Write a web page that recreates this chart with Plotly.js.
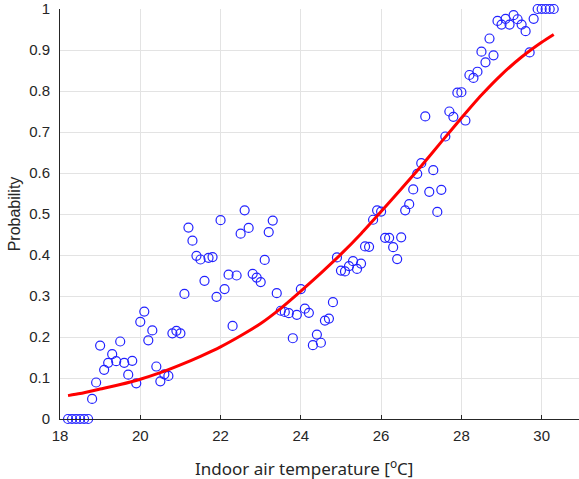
<!DOCTYPE html>
<html>
<head>
<meta charset="utf-8">
<script src="https://cdn.plot.ly/plotly-3.0.1.min.js"></script>
<style>html,body{margin:0;padding:0;background:#fff;}#chart{width:579px;height:479px;}</style>
</head>
<body>
<div id="chart"></div>
<script>
// Observed probabilities (open circles)
var obsTemp = [18.2,18.3,18.4,18.5,18.6,18.7,18.8,18.9,19.0,19.1,19.2,19.3,19.4,19.5,19.6,19.7,19.8,19.9,
  20.0,20.1,20.2,20.3,20.4,20.5,20.6,20.7,20.8,20.9,21.0,21.1,21.2,21.3,21.4,21.5,21.6,21.7,21.8,21.9,
  22.0,22.1,22.2,22.3,22.4,22.5,22.6,22.7,22.8,22.9,23.0,23.1,23.2,23.3,23.4,23.5,23.6,23.7,23.8,23.9,
  24.0,24.1,24.2,24.3,24.4,24.5,24.6,24.7,24.8,24.9,25.0,25.1,25.2,25.3,25.4,25.5,25.6,25.7,25.8,25.9,
  26.0,26.1,26.2,26.3,26.4,26.5,26.6,26.7,26.8,26.9,27.0,27.1,27.2,27.3,27.4,27.5,27.6,27.7,27.8,27.9,
  28.0,28.1,28.2,28.3,28.4,28.5,28.6,28.7,28.8,28.9,29.0,29.1,29.2,29.3,29.4,29.5,29.6,29.7,29.8,29.9,
  30.0,30.1,30.2,30.3];
var obsProb = [0,0,0,0,0,0,0.049,0.089,0.179,0.120,0.137,0.158,0.141,0.189,0.137,0.108,0.142,0.087,
  0.237,0.262,0.192,0.216,0.128,0.092,0.109,0.105,0.209,0.215,0.209,0.305,0.467,0.435,0.398,0.389,0.337,0.393,0.395,0.298,
  0.485,0.317,0.352,0.227,0.350,0.452,0.509,0.466,0.354,0.345,0.334,0.388,0.456,0.484,0.307,0.264,0.261,0.258,0.197,0.254,
  0.317,0.269,0.259,0.180,0.206,0.186,0.240,0.245,0.285,0.394,0.362,0.360,0.373,0.385,0.366,0.379,0.421,0.420,0.486,0.509,
  0.506,0.442,0.442,0.419,0.390,0.443,0.509,0.524,0.560,0.598,0.624,0.738,0.554,0.607,0.505,0.559,0.689,0.750,0.737,0.796,
  0.797,0.728,0.839,0.832,0.847,0.896,0.870,0.928,0.887,0.971,0.962,0.976,0.962,0.985,0.975,0.962,0.946,0.894,0.976,1,
  1,1,1,1];

// Fitted curve (red)
var fitTemp = [18.2,18.5,19.0,19.5,20.0,20.5,21.0,21.5,22.0,22.5,23.0,23.5,24.0,24.5,25.0,25.5,26.0,26.5,27.0,27.5,28.0,28.5,29.0,29.5,30.0,30.3];
var fitProb = [0.057,0.062,0.073,0.084,0.097,0.113,0.132,0.153,0.176,0.203,0.233,0.270,0.312,0.356,0.402,0.452,0.506,0.561,0.617,0.676,0.734,0.790,0.840,0.883,0.919,0.938];

var xTicks = [18,20,22,24,26,28,30];
var yTicks = [0,0.1,0.2,0.3,0.4,0.5,0.6,0.7,0.8,0.9,1];
var yTickText = ['0','0.1','0.2','0.3','0.4','0.5','0.6','0.7','0.8','0.9','1'];

var traces = [
  {x: obsTemp, y: obsProb, type: 'scatter', mode: 'markers', cliponaxis: false,
   marker: {symbol: 'circle-open', size: 9, color: '#2222ff', line: {width: 1.2, color: '#2222ff'}},
   hoverinfo: 'x+y'},
  {x: fitTemp, y: fitProb, type: 'scatter', mode: 'lines', cliponaxis: false,
   line: {color: '#ff0000', width: 3, shape: 'spline', smoothing: 0.6}}
];

var layout = {
  width: 579, height: 479,
  margin: {l: 60, r: 0, t: 9, b: 60},
  paper_bgcolor: '#ffffff', plot_bgcolor: '#ffffff',
  showlegend: false,
  font: {family: 'Liberation Sans, Arial, sans-serif', size: 15, color: '#262626'},
  xaxis: {
    range: [18, 30.93], tickvals: xTicks, ticktext: xTicks.map(String),
    showgrid: true, gridcolor: '#e3e3e3', gridwidth: 1,
    zeroline: false, showline: true, linecolor: '#262626', linewidth: 1,
    ticks: 'inside', ticklen: 4, tickcolor: '#262626',
    ticklabelstandoff: 3,
    tickfont: {family: 'Liberation Sans, Arial, sans-serif', size: 15, color: '#262626'}
  },
  yaxis: {
    range: [0, 1], tickvals: yTicks, ticktext: yTickText,
    showgrid: true, gridcolor: '#e3e3e3', gridwidth: 1,
    zeroline: false, showline: true, linecolor: '#262626', linewidth: 1,
    ticks: '', ticklabelstandoff: 6,
    tickfont: {family: 'Liberation Sans, Arial, sans-serif', size: 15, color: '#262626'},
    title: {text: 'Probability', standoff: 4,
            font: {family: 'Liberation Sans, Arial, sans-serif', size: 16, color: '#262626'}}
  },
  annotations: [
    {xref: 'paper', yref: 'paper', x: 0.471, y: -0.118, xanchor: 'center', yanchor: 'middle',
     showarrow: false, text: 'Indoor air temperature [<sup>o</sup>C]',
     font: {family: 'Noto Sans, Open Sans, sans-serif', size: 17, color: '#262626'}}
  ]
};

Plotly.newPlot('chart', traces, layout, {displayModeBar: false, staticPlot: true});
</script>
</body>
</html>
